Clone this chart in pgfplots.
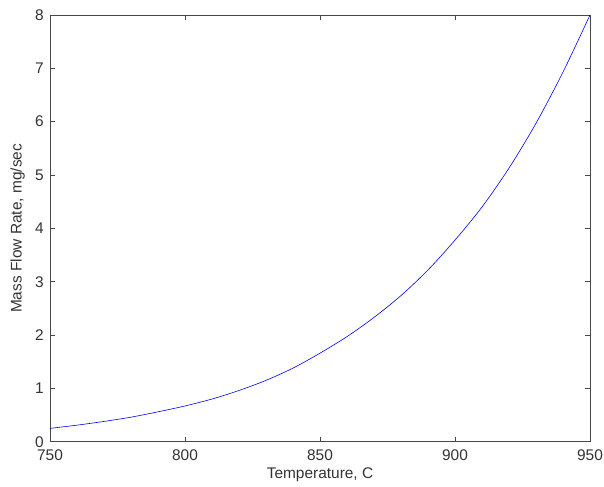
\documentclass[border=0pt]{standalone}
\usepackage{pgfplots}
\pgfplotsset{compat=1.18}
\usepackage{fontspec}
\setmainfont{Liberation Sans}
\begin{document}
\begin{tikzpicture}
\begin{axis}[
  scale only axis,
  width=540bp, height=426.7bp,
  xmin=750, xmax=950, ymin=0, ymax=8,
  xtick={750,800,850,900,950},
  ytick={0,1,2,3,4,5,6,7,8},
  tick align=inside,
  major tick length=5bp,
  axis line style={black!72, line width=0.7pt},
  every tick/.style={black!72, line width=0.7pt},
  tick label style={font=\fontsize{15.5}{17}\selectfont, text=black!80},
  label style={font=\fontsize{15.5}{17}\selectfont, text=black!80},
  /pgf/number format/assume math mode=true,
  xticklabel style={inner sep=0pt, anchor=north, yshift=-8bp},
  yticklabel style={inner sep=0pt, anchor=east, xshift=-6bp},
  xlabel={Temperature, C},
  ylabel={Mass Flow Rate, mg/sec},
  xlabel style={at={(axis description cs:0.5,0)}, anchor=north, inner sep=0pt, yshift=-26.3bp},
  ylabel style={at={(axis description cs:0,0.5)}, anchor=south, inner sep=0pt, yshift=25bp},
]
\addplot[blue, line width=0.6pt, smooth] coordinates {
(750,0.25) (760,0.31) (770,0.38) (780,0.46) (790,0.56) (800,0.67)
(810,0.80) (820,0.96) (830,1.15) (840,1.38) (850,1.66) (860,1.97)
(870,2.33) (880,2.74) (890,3.22) (900,3.78) (910,4.40) (920,5.13)
(930,5.97) (940,6.93) (950,8.00)
};
\coordinate (bl) at (rel axis cs:0,0);
\coordinate (tr) at (rel axis cs:1,1);
\end{axis}
\pgfresetboundingbox
\path[use as bounding box] ([shift={(-50bp,-45.3bp)}]bl) rectangle ([shift={(14bp,15bp)}]tr);
\end{tikzpicture}
\end{document}
